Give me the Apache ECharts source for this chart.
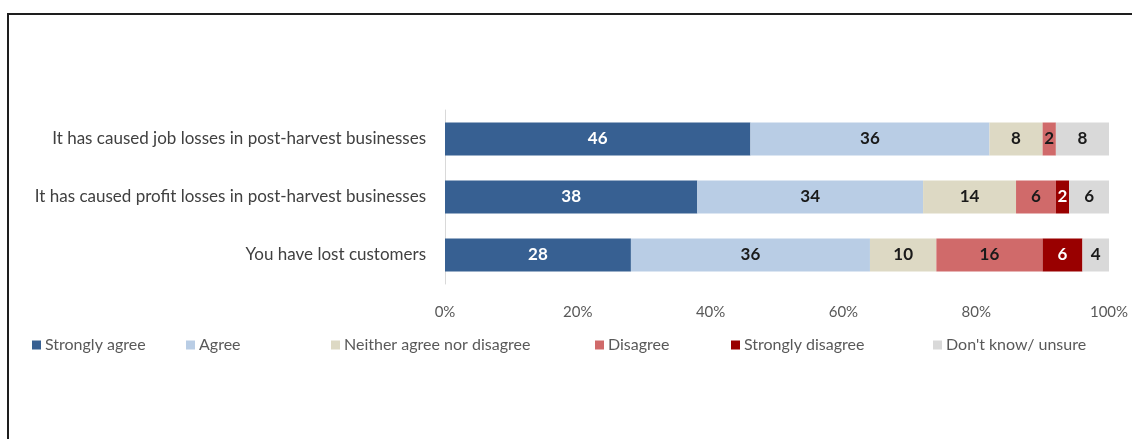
<!DOCTYPE html>
<html>
<head>
<meta charset="utf-8">
<style>
  html, body { margin: 0; padding: 0; background: #fff; }
  #chart { width: 1132px; height: 439px; }
</style>
<script src="https://cdn.jsdelivr.net/npm/echarts@6/dist/echarts.min.js"></script>
</head>
<body>
<div id="chart"></div>
<script>
// Statements (top to bottom)
const statements = [
  'It has caused job losses in post-harvest businesses',
  'It has caused profit losses in post-harvest businesses',
  'You have lost customers'
];

// Response shares in percent, one array per answer
const stronglyAgree    = [46, 38, 28];
const agree            = [36, 34, 36];
const neither          = [8, 14, 10];
const disagree         = [2, 6, 16];
const stronglyDisagree = [0, 2, 6];
const dontKnow         = [8, 6, 4];

const responseNames = [
  'Strongly agree', 'Agree', 'Neither agree nor disagree',
  'Disagree', 'Strongly disagree', "Don't know/ unsure"
];
const responseValues = [stronglyAgree, agree, neither, disagree, stronglyDisagree, dontKnow];
const responseColors = ['#376092', '#B9CDE5', '#DDD9C4', '#D06A6A', '#990000', '#D9D9D9'];
const labelColors    = ['#ffffff', '#1a1a1a', '#1a1a1a', '#1a1a1a', '#ffffff', '#1a1a1a'];

// x positions of each legend entry
const legendLeft = [27, 181, 326, 590, 726, 928];

const FONT = 'Lato, "Liberation Sans", sans-serif';

const series = responseNames.map((name, i) => ({
  name,
  type: 'bar',
  stack: 'total',
  barWidth: 33,
  itemStyle: { color: responseColors[i] },
  label: {
    show: true,
    position: 'inside',
    color: labelColors[i],
    fontFamily: FONT,
    fontSize: 17,
    fontWeight: 'bold',
    formatter: p => (p.value ? String(p.value) : '')
  },
  emphasis: { disabled: true },
  data: responseValues[i]
}));

const legends = responseNames.map((name, i) => ({
  data: [name],
  left: legendLeft[i],
  top: 332,
  itemWidth: 9,
  itemHeight: 9,
  itemGap: 0,
  icon: 'rect',
  selectedMode: false,
  textStyle: { fontFamily: FONT, fontSize: 16, color: '#595959', padding: [0, 0, 0, -1] }
}));

const chart = echarts.init(document.getElementById('chart'), null, { renderer: 'canvas' });
chart.setOption({
  animation: false,
  backgroundColor: '#ffffff',
  graphic: [{
    type: 'polyline',
    shape: { points: [[8, 440], [8, 14], [1140, 14]] },
    style: { stroke: '#1e1e1e', lineWidth: 2, fill: null },
    silent: true
  }],
  grid: { left: 445, right: 23, top: 110, height: 174, containLabel: false },
  legend: legends,
  xAxis: {
    type: 'value',
    min: 0,
    max: 100,
    interval: 20,
    axisLine: { show: false },
    axisTick: { show: false },
    splitLine: { show: false },
    axisLabel: {
      formatter: '{value}%',
      margin: 21,
      fontFamily: FONT,
      fontSize: 15,
      color: '#595959'
    }
  },
  yAxis: {
    type: 'category',
    inverse: true,
    data: statements,
    axisLine: { show: true, lineStyle: { color: '#D9D9D9', width: 1 } },
    axisTick: { show: false },
    axisLabel: {
      margin: 19,
      fontFamily: FONT,
      fontSize: 17,
      color: '#404040'
    }
  },
  series
});
</script>
</body>
</html>
